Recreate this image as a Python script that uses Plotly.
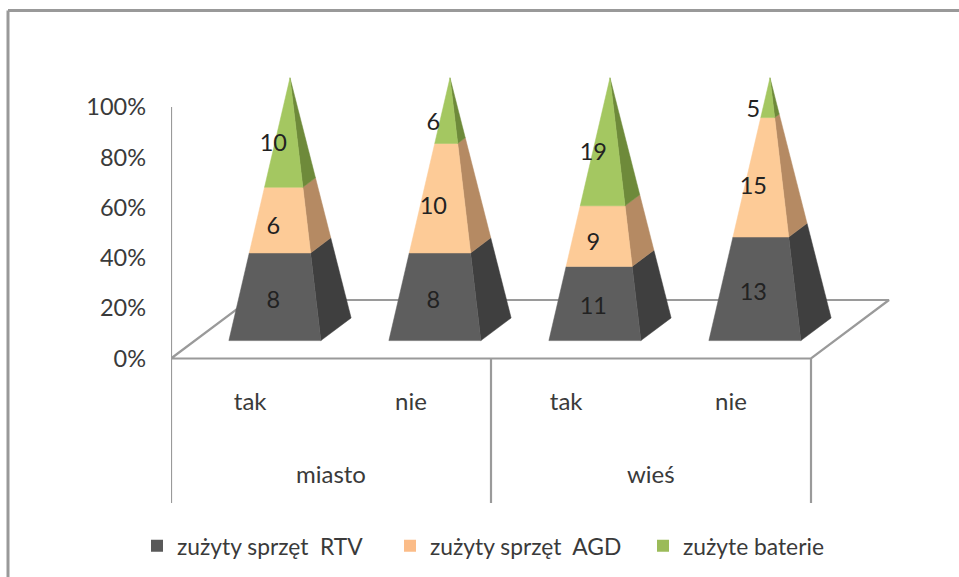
import plotly.graph_objects as go

categories = ["tak", "nie", "tak", "nie"]
groups = ["miasto", "wieś"]
series_names = ["zużyty sprzęt  RTV", "zużyty sprzęt  AGD", "zużyte baterie"]
rtv = [8, 8, 11, 13]
agd = [6, 10, 9, 15]
baterie = [10, 6, 19, 5]
y_ticks = [0, 20, 40, 60, 80, 100]
front_colors = ["#5E5E5E", "#FDCB97", "#A4C761"]
side_colors = ["#3F3F3F", "#B58A63", "#6E8A3A"]
legend_colors = ["#595959", "#FBBC88", "#9BBB59"]
TEXT = "#3A3A3A"
LINE = "#9A9A9A"
FONT = "Lato"

W, H = 959, 577
L, AX_RIGHT, AX_0, AX_100, BOT = 171, 811, 358.5, 107, 503
PX_X = (AX_RIGHT - L) / 4
PX_Y = (AX_0 - AX_100) / 100
DX = 78 / PX_X        # oblique shift of the full floor depth
DY = 58.5 / PX_Y
HW = 46 / PX_X        # half width of pyramid base
HD = 0.194            # half depth of pyramid base


def proj(x, d, pct):
    return x + DX * d, pct + DY * d


fig = go.Figure()


def line(xs, ys, width=2.2):
    fig.add_trace(go.Scatter(x=xs, y=ys, mode="lines", showlegend=False, hoverinfo="skip",
                             line=dict(color=LINE, width=width)))


# floor
fl = [proj(0, 0, 0), proj(0, 1, 0), proj(4, 1, 0), proj(4, 0, 0), proj(0, 0, 0)]
line([p[0] for p in fl], [p[1] for p in fl])
# axis lines and group dividers
BOTTOM = -(BOT - AX_0) / PX_Y
line([0, 0], [100, BOTTOM])
line([2, 2], [0, BOTTOM])
line([4, 4], [0, BOTTOM])


def poly(pts, color):
    fig.add_trace(go.Scatter(x=[p[0] for p in pts], y=[p[1] for p in pts], mode="lines",
                             fill="toself", fillcolor=color, showlegend=False, hoverinfo="skip",
                             line=dict(color=color, width=0.5)))


all_series = [rtv, agd, baterie]
for i in range(4):
    cx = i + 0.5
    total = sum(s[i] for s in all_series)
    acc = 0
    for k, s in enumerate(all_series):
        t0 = acc / total
        t1 = (acc + s[i]) / total
        acc += s[i]

        def corner(sx, sd, t):
            return proj(cx + sx * HW * (1 - t), 0.5 + sd * HD * (1 - t), 100 * t)

        poly([corner(1, -1, t0), corner(1, 1, t0), corner(1, 1, t1), corner(1, -1, t1), corner(1, -1, t0)],
             side_colors[k])
        poly([corner(-1, -1, t0), corner(1, -1, t0), corner(1, -1, t1), corner(-1, -1, t1), corner(-1, -1, t0)],
             front_colors[k])

# data labels
for k, s in enumerate(all_series):
    xs, ys, txt = [], [], []
    for i in range(4):
        total = sum(q[i] for q in all_series)
        below = sum(all_series[j][i] for j in range(k))
        px, py = proj(i + 0.49, 0.5 - HD, 100 * (below + s[i] / 2) / total)
        xs.append(px)
        ys.append(py - 1.3)
        txt.append(str(s[i]))
    fig.add_trace(go.Scatter(x=xs, y=ys, text=txt, mode="text", showlegend=False, hoverinfo="skip",
                             textposition="middle center", cliponaxis=False,
                             textfont=dict(family=FONT, size=23.5, color="#222222")))

# legend entries
for name, col in zip(series_names, legend_colors):
    fig.add_trace(go.Scatter(x=[None], y=[None], mode="markers", name=name,
                             marker=dict(symbol="square", size=14, color=col)))

annotations = [dict(x=2 * j + 1, y=-(473 - AX_0) / PX_Y, xref="x", yref="y", text=g, showarrow=False,
                    font=dict(family=FONT, size=24, color=TEXT)) for j, g in enumerate(groups)]

frame_x = (8 - L) / (W - L)
frame_y = (BOT - 10.5) / BOT
fig.update_layout(
    width=W, height=H, autosize=False,
    margin=dict(l=L, r=0, t=0, b=H - BOT, autoexpand=False, pad=0),
    plot_bgcolor="white", paper_bgcolor="white",
    showlegend=True,
    legend=dict(orientation="h", x=(137 - L) / (W - L), y=-(546 - BOT) / BOT, xanchor="left", yanchor="middle",
                font=dict(family=FONT, size=22.8, color=TEXT), bgcolor="rgba(0,0,0,0)",
                entrywidth=208, entrywidthmode="pixels", itemsizing="constant", tracegroupgap=0),
    xaxis=dict(range=[0, (W - L) / PX_X], tickmode="array", tickvals=[0.495, 1.5, 2.47, 3.5], ticktext=categories,
               anchor="free", position=(BOT - AX_0) / BOT,
               showgrid=False, zeroline=False, showline=False, ticks="", ticklabelstandoff=26,
               tickfont=dict(family=FONT, size=24, color=TEXT)),
    yaxis=dict(range=[BOTTOM, AX_0 / PX_Y], tickmode="array", tickvals=y_ticks,
               ticktext=[f"{v}%" for v in y_ticks],
               showgrid=False, zeroline=False, showline=False, ticks="", ticklabelstandoff=24,
               tickfont=dict(family=FONT, size=23.5, color=TEXT)),
    annotations=annotations,
    shapes=[
        dict(type="line", xref="paper", yref="paper", x0=frame_x, x1=frame_x,
             y0=-(H - BOT) / BOT, y1=frame_y, line=dict(color="#999999", width=3)),
        dict(type="line", xref="paper", yref="paper", x0=frame_x, x1=1,
             y0=frame_y, y1=frame_y, line=dict(color="#999999", width=3)),
    ],
)
fig.write_html("out.html", config={"displayModeBar": False},
               post_script="document.body.style.margin='0';")
